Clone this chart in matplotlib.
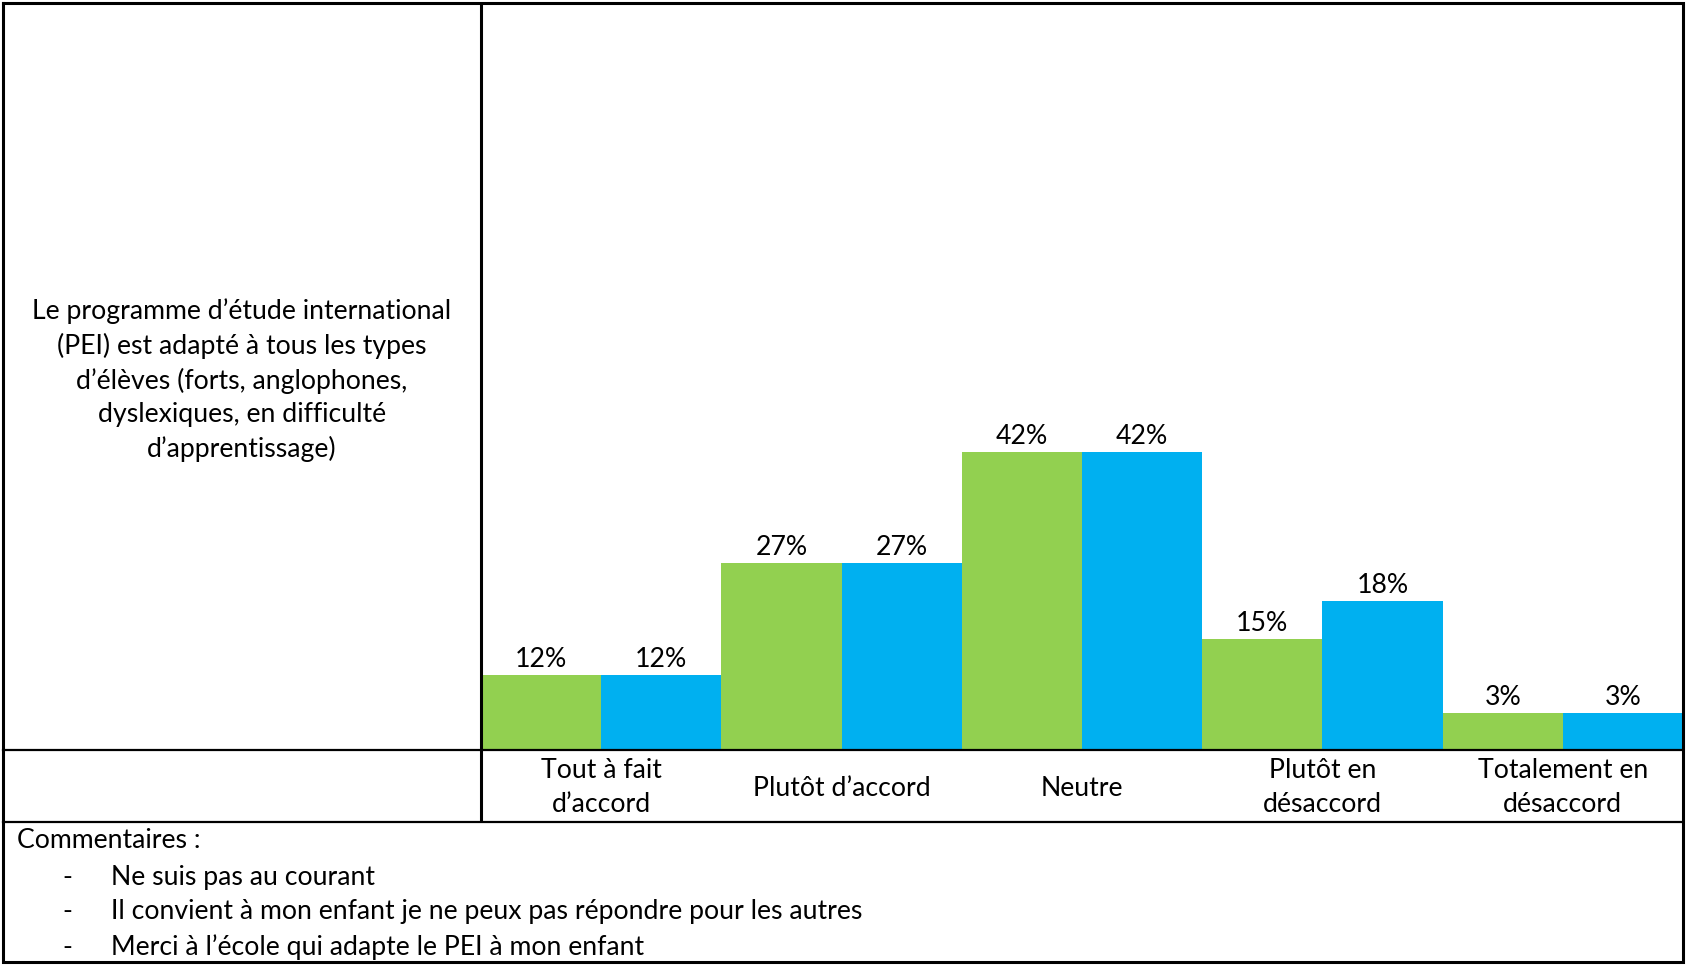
import matplotlib
matplotlib.use("Agg")
import matplotlib.pyplot as plt
import numpy as np

plt.rcParams['font.family'] = ['Lato', 'DejaVu Sans']

# categories and values
categories = ["Tout à fait\nd’accord", "Plutôt d’accord", "Neutre",
              "Plutôt en\ndésaccord", "Totalement en\ndésaccord"]
labels_green = ["12%", "27%", "42%", "15%", "3%"]
labels_blue = ["12%", "27%", "42%", "18%", "3%"]
# bar heights as drawn in the picture (not proportional to the labels)
heights_green = [10.6, 26.4, 42.0, 15.6, 5.2]
heights_blue = [10.6, 26.4, 42.0, 21.0, 5.2]

question = ("Le programme d’étude international\n(PEI) est adapté à tous les types\n"
            "d’élèves (forts, anglophones,\ndyslexiques, en difficulté\nd’apprentissage)")
comments_title = "Commentaires :"
comments = ["Ne suis pas au courant",
            "Il convient à mon enfant je ne peux pas répondre pour les autres",
            "Merci à l’école qui adapte le PEI à mon enfant"]

GREEN = "#92D050"
BLUE = "#00B0F0"
FS = 19.2

W, H = 1686, 965
fig = plt.figure(figsize=(W / 100, H / 100), dpi=100)

# table geometry in pixels
x_left, x_div, x_right = 3, 481, 1683
y_top, y_base, y_cat, y_bot = 3, 750, 822, 962

# bar chart area
ax = fig.add_axes([x_div / W, 1 - y_base / H, (x_right - x_div) / W, (y_base - y_top) / H])
ax.set_zorder(1)
x = np.arange(len(categories))
w = 0.5
ax.bar(x - w / 2, heights_green, w, color=GREEN)
ax.bar(x + w / 2, heights_blue, w, color=BLUE)
for i in range(len(categories)):
    ax.annotate(labels_green[i], (x[i] - w / 2, heights_green[i]), xytext=(0, 11),
                textcoords="offset points", ha="center", va="center", fontsize=FS)
    ax.annotate(labels_blue[i], (x[i] + w / 2, heights_blue[i]), xytext=(0, 11),
                textcoords="offset points", ha="center", va="center", fontsize=FS)
ax.set_xlim(-0.5, len(categories) - 0.5)
ax.set_ylim(0, (y_base - y_top) / 7.1)
ax.axis("off")

# overlay for table lines and text, in pixel coordinates
ov = fig.add_axes([0, 0, 1, 1])
ov.set_zorder(2)
ov.patch.set_alpha(0)
ov.set_xlim(0, W)
ov.set_ylim(H, 0)
ov.axis("off")

lw_out = 2.2
lw_in = 1.6
ov.plot([x_left, x_right, x_right, x_left, x_left], [y_top, y_top, y_bot, y_bot, y_top],
        color="black", lw=lw_out, solid_joinstyle="miter")
ov.plot([x_div, x_div], [y_top, y_cat], color="black", lw=lw_out, solid_capstyle="butt")
ov.plot([x_left, x_right], [y_base, y_base], color="black", lw=lw_in)
ov.plot([x_left, x_right], [y_cat, y_cat], color="black", lw=lw_in)

ov.text(242, 380, question, ha="center", va="center", fontsize=FS, linespacing=1.41)

group_w = (x_right - x_div) / len(categories)
for i, c in enumerate(categories):
    ov.text(x_div + group_w * (i + 0.5), 788, c, ha="center", va="center",
            fontsize=FS, linespacing=1.45)

ov.text(17, 841, comments_title, ha="left", va="center", fontsize=FS)
for j, c in enumerate(comments):
    yy = 877 + j * 35
    ov.text(67, yy, "-", ha="center", va="center", fontsize=FS)
    ov.text(111, yy, c, ha="left", va="center", fontsize=FS)

fig.savefig("out.png", dpi=100)
